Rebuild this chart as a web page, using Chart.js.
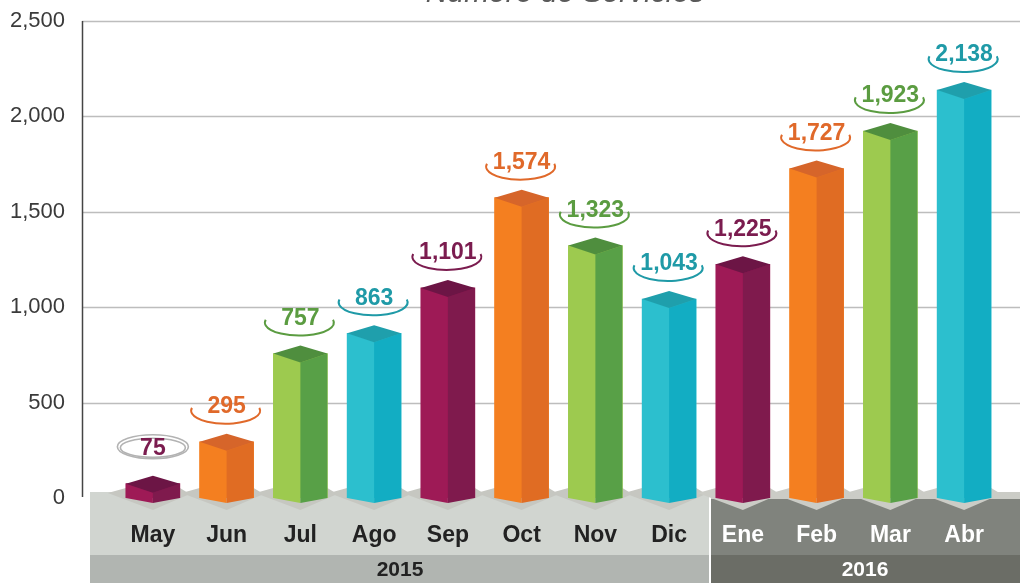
<!DOCTYPE html>
<html>
<head>
<meta charset="utf-8">
<script src="https://cdn.jsdelivr.net/npm/chart.js@4.4.1/dist/chart.umd.min.js"></script>
<style>
html,body{margin:0;padding:0;background:#fff;}
#wrap{position:relative;width:1020px;height:583px;}
</style>
</head>
<body>
<div id="wrap"><canvas id="c" width="1020" height="583"></canvas></div>
<script>
// ---- data ----
const chartTitle = 'Número de Servicios';
const months = ['May','Jun','Jul','Ago','Sep','Oct','Nov','Dic','Ene','Feb','Mar','Abr'];
const services = [75, 295, 757, 863, 1101, 1574, 1323, 1043, 1225, 1727, 1923, 2138];
const years = ['2015', '2016'];
const monthsPerYear = [8, 4];
const yMin = 0, yMax = 2500, yStep = 500;

// ---- styles ----
const palette = [
  {left:'#9e1a56', right:'#7f1a4d', top:'#6c1545', label:'#7b1c4f'},
  {left:'#f47f20', right:'#e06c23', top:'#d6652a', label:'#e0692a'},
  {left:'#9dca4f', right:'#58a047', top:'#4f8e3e', label:'#5b9c41'},
  {left:'#2cbfce', right:'#12adc3', top:'#1f9fac', label:'#1f9aa7'}
];
const colorOf = i => palette[i % 4];
const fmt = v => String(v).replace(/\B(?=(\d{3})+(?!\d))/g, ',');

const decor = {
  id: 'decor',
  beforeDraw(chart) {
    const ctx = chart.ctx;
    const ys = chart.scales.y, xs = chart.scales.x;
    ctx.save();
    // title (cut off at top)
    ctx.font = 'italic 30px "Liberation Sans", Arial, sans-serif';
    ctx.fillStyle = '#5a5a5a';
    ctx.textAlign = 'center';
    ctx.textBaseline = 'alphabetic';
    ctx.fillText(chartTitle, 565, 2);
    // gridlines
    ctx.strokeStyle = '#bdbdbd';
    ctx.lineWidth = 1.5;
    for (let v = yMin + yStep; v <= yMax; v += yStep) {
      const py = Math.round(ys.getPixelForValue(v)) + 0.5;
      ctx.beginPath(); ctx.moveTo(82, py); ctx.lineTo(1020, py); ctx.stroke();
    }
    // axis line
    ctx.strokeStyle = '#444';
    ctx.lineWidth = 1.5;
    ctx.beginPath();
    ctx.moveTo(82.5, ys.getPixelForValue(yMax));
    ctx.lineTo(82.5, ys.getPixelForValue(0) - 1);
    ctx.stroke();
    // band
    const bandLeft = 90;
    const split = (xs.getPixelForValue(monthsPerYear[0] - 1) + xs.getPixelForValue(monthsPerYear[0])) / 2 + 4;
    const topY = 492, rowY = 555, botY = 583;
    ctx.fillStyle = '#d1d5d0';
    ctx.fillRect(bandLeft, topY, split - 1 - bandLeft, rowY - topY);
    ctx.fillStyle = '#b1b5b1';
    ctx.fillRect(bandLeft, rowY, split - 1 - bandLeft, botY - rowY);
    ctx.fillStyle = '#cbccc6';
    ctx.fillRect(split + 1, topY, 1020 - split - 1, 7);
    ctx.fillStyle = '#80837d';
    ctx.fillRect(split + 1, topY + 7, 1020 - split - 1, rowY - topY - 7);
    ctx.fillStyle = '#6b6d66';
    ctx.fillRect(split + 1, rowY, 1020 - split - 1, botY - rowY);
    // bar shadows
    const meta = chart.getDatasetMeta(0);
    meta.data.forEach((el, i) => {
      const c = el.x, hw = el.width / 2;
      ctx.fillStyle = i < monthsPerYear[0] ? '#c6c7c1' : '#cbccc6';
      ctx.beginPath();
      ctx.moveTo(c - hw - 18, topY + 1);
      ctx.lineTo(c - hw, topY - 4);
      ctx.lineTo(c + hw, topY - 4);
      ctx.lineTo(c + hw + 10, topY + 2);
      ctx.lineTo(c, topY + 18);
      ctx.closePath();
      ctx.fill();
    });
    // year labels
    ctx.font = 'bold 21px "Liberation Sans", Arial, sans-serif';
    ctx.textBaseline = 'middle';
    ctx.textAlign = 'center';
    ctx.fillStyle = '#222';
    ctx.fillText(years[0], (bandLeft + split) / 2, 570);
    ctx.fillStyle = '#fff';
    ctx.fillText(years[1], (split + 1020) / 2, 570);
    ctx.restore();
  },
  afterDatasetsDraw(chart) {
    const ctx = chart.ctx;
    const meta = chart.getDatasetMeta(0);
    ctx.save();
    meta.data.forEach((el, i) => {
      const col = colorOf(i);
      const c = el.x, top = el.y, base = el.base, hw = el.width / 2;
      const dUp = 8, dTop = 9, dBot = 5;
      ctx.fillStyle = col.left;
      ctx.beginPath();
      ctx.moveTo(c - hw, top); ctx.lineTo(c, top + dTop); ctx.lineTo(c, base + dBot); ctx.lineTo(c - hw, base);
      ctx.closePath(); ctx.fill();
      ctx.fillStyle = col.right;
      ctx.beginPath();
      ctx.moveTo(c, top + dTop); ctx.lineTo(c + hw, top); ctx.lineTo(c + hw, base); ctx.lineTo(c, base + dBot);
      ctx.closePath(); ctx.fill();
      ctx.fillStyle = col.top;
      ctx.beginPath();
      ctx.moveTo(c, top - dUp); ctx.lineTo(c + hw, top); ctx.lineTo(c, top + dTop); ctx.lineTo(c - hw, top);
      ctx.closePath(); ctx.fill();
      // value label
      const ty = top - 35;
      if (i === 0) {
        ctx.strokeStyle = '#b3b3b3';
        ctx.lineWidth = 1.6;
        ctx.beginPath(); ctx.ellipse(c, ty - 2, 35.5, 12, 0, 0, Math.PI * 2); ctx.stroke();
        ctx.beginPath(); ctx.ellipse(c, ty - 1, 32.5, 9.5, 0, 0, Math.PI * 2); ctx.stroke();
      } else {
        ctx.strokeStyle = col.label;
        ctx.lineWidth = 2;
        ctx.beginPath(); ctx.ellipse(c - 1, ty + 4, 34.5, 13, 0, -0.22, Math.PI + 0.22); ctx.stroke();
      }
      ctx.fillStyle = col.label;
      ctx.font = 'bold 23px "Liberation Sans", Arial, sans-serif';
      ctx.textAlign = 'center';
      ctx.textBaseline = 'middle';
      ctx.fillText(fmt(services[i]), c, ty);
    });
    ctx.restore();
  }
};

new Chart(document.getElementById('c'), {
  type: 'bar',
  data: {
    labels: months,
    datasets: [{
      data: services,
      backgroundColor: services.map((v, i) => colorOf(i).left),
      borderWidth: 0,
      barThickness: 54
    }]
  },
  options: {
    responsive: false,
    animation: false,
    devicePixelRatio: 1,
    layout: {padding: {top: 21, right: 19, left: 0, bottom: 0}},
    plugins: {legend: {display: false}, tooltip: {enabled: false}, title: {display: false}},
    scales: {
      x: {
        grid: {display: false, drawTicks: false},
        border: {display: false},
        afterFit: s => { s.height = 85; },
        ticks: {
          autoSkip: false, maxRotation: 0, padding: 24,
          font: {family: '"Liberation Sans", Arial, sans-serif', size: 23, weight: 'bold'},
          color: ctx => ctx.index >= monthsPerYear[0] ? '#ffffff' : '#222222'
        }
      },
      y: {
        min: yMin, max: yMax,
        grid: {display: false, drawTicks: false},
        border: {display: false},
        afterFit: s => { s.width = 116; s.paddingTop = 0; s.paddingBottom = 0; },
        ticks: {
          stepSize: yStep, padding: 51,
          font: {family: '"Liberation Sans", Arial, sans-serif', size: 22},
          color: '#3a3a3a',
          callback: v => fmt(v)
        }
      }
    }
  },
  plugins: [decor]
});
</script>
</body>
</html>
